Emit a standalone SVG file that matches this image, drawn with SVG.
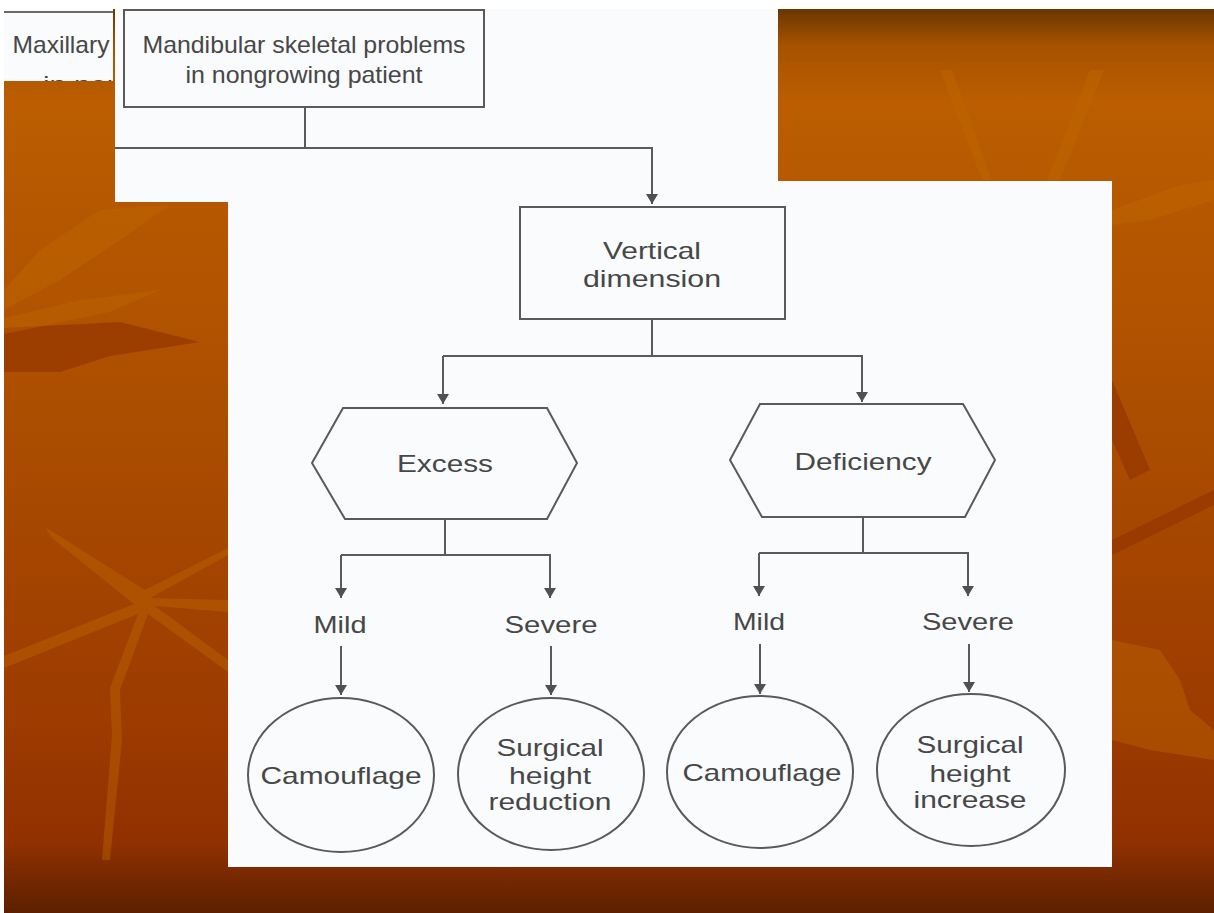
<svg xmlns="http://www.w3.org/2000/svg" width="1214" height="913" viewBox="0 0 1214 913">
<defs>
<linearGradient id="bg" x1="0" y1="0" x2="0" y2="1">
<stop offset="0" stop-color="#6a3600"/>
<stop offset="0.04" stop-color="#a65200"/>
<stop offset="0.1" stop-color="#bb5d00"/>
<stop offset="0.45" stop-color="#ac4e00"/>
<stop offset="0.8" stop-color="#9c3a00"/>
<stop offset="0.92" stop-color="#923100"/>
<stop offset="1" stop-color="#5c2000"/>
</linearGradient>
<clipPath id="clipA"><rect x="4" y="9" width="109" height="72"/></clipPath>
<marker id="ah" viewBox="0 0 10 12" refX="10" refY="6" markerWidth="10" markerHeight="12" markerUnits="userSpaceOnUse" orient="auto">
<path d="M0,0 L10,6 L0,12 z" fill="#505050"/>
</marker>
</defs>
<style>
.panel{fill:#f9fbfc}
.shape{fill:none;stroke:#5a5a5a;stroke-width:2}
.conn{fill:none;stroke:#5a5a5a;stroke-width:2}
.arr{marker-end:url(#ah)}
.t{font-family:"Liberation Sans",Arial,sans-serif;font-size:24px;fill:#474747;text-anchor:middle}
.leafD{fill:#943600;opacity:0.7}
.leafL{fill:#c06800;opacity:0.4}
</style>
<rect x="0" y="0" width="1214" height="913" fill="#ffffff"/>
<rect x="4" y="9" width="1210" height="904" fill="url(#bg)"/>
<g id="background-leaves">
<polygon class="leafD" points="4,328 120,322 200,342 110,356 60,372 4,372"/>
<polygon class="leafL" points="4,318 80,300 160,290 110,312 4,334"/>
<polygon class="leafL" points="4,290 40,250 100,210 170,205 120,240 60,280 4,310"/>
<polygon class="leafL" points="45,527 145,590 228,548 228,555 150,598 228,600 228,612 155,606 228,660 228,672 148,614 120,690 122,740 110,860 102,860 112,735 110,688 138,614 4,668 4,656 134,604 52,538"/>
<polygon class="leafL" points="940,70 952,70 992,180 982,180"/>
<polygon class="leafL" points="1090,70 1104,70 1060,180 1047,180"/>
<polygon class="leafD" points="1112,380 1150,470 1130,480 1112,440"/>
<polygon class="leafD" points="1112,540 1214,490 1214,505 1112,555"/>
<polygon class="leafL" points="1112,210 1180,185 1214,180 1214,200 1150,220 1112,225"/>
<polygon class="leafL" points="1112,640 1160,650 1180,680 1190,710 1214,730 1214,760 1150,750 1112,740"/>
</g>
<rect class="panel" x="4" y="9" width="109" height="72"/>
<rect class="panel" x="115" y="9" width="663" height="193"/>
<rect class="panel" x="228" y="181" width="884" height="686"/>
<g id="maxillary-partial" clip-path="url(#clipA)">
<line x1="4" y1="12" x2="113" y2="12" stroke="#6a6a6a" stroke-width="2"/>
<text class="t" x="61" y="53" font-size="25" textLength="97" lengthAdjust="spacingAndGlyphs">Maxillary</text>
<text class="t" x="43" y="93" font-size="25" style="text-anchor:start" textLength="80" lengthAdjust="spacingAndGlyphs">in non</text>
</g>
<g id="connectors">
<polyline class="conn" points="305,107 305,148 115,148"/>
<polyline class="conn arr" points="305,148 652,148 652,204"/>
<polyline class="conn" points="652,319 652,356 443,356"/>
<polyline class="conn arr" points="443,356 443,404"/>
<polyline class="conn arr" points="652,356 862,356 862,402"/>
<polyline class="conn" points="445,520 445,555 341,555"/>
<polyline class="conn arr" points="341,555 341,598"/>
<polyline class="conn arr" points="445,555 550,555 550,598"/>
<polyline class="conn" points="863,517 863,553 759,553"/>
<polyline class="conn arr" points="759,553 759,596"/>
<polyline class="conn arr" points="863,553 968,553 968,596"/>
<line class="conn arr" x1="341" y1="646" x2="341" y2="695"/>
<line class="conn arr" x1="551" y1="646" x2="551" y2="695"/>
<line class="conn arr" x1="760" y1="644" x2="760" y2="694"/>
<line class="conn arr" x1="969" y1="644" x2="969" y2="692"/>
</g>
<g id="mandibular">
<rect class="shape" x="124" y="10" width="360" height="97"/>
<text class="t" x="304" y="53" font-size="25" textLength="323" lengthAdjust="spacingAndGlyphs">Mandibular skeletal problems</text>
<text class="t" x="304" y="83" font-size="25" textLength="237" lengthAdjust="spacingAndGlyphs">in nongrowing patient</text>
</g>
<g id="vertical-dimension">
<rect class="shape" x="520" y="207" width="265" height="112"/>
<text class="t" x="652" y="259" textLength="98" lengthAdjust="spacingAndGlyphs">Vertical</text>
<text class="t" x="652" y="287" textLength="138" lengthAdjust="spacingAndGlyphs">dimension</text>
</g>
<g id="excess">
<polygon class="shape" points="312,463 343,408 547,408 577,463 547,519 345,519"/>
<text class="t" x="445" y="472" textLength="96" lengthAdjust="spacingAndGlyphs">Excess</text>
</g>
<g id="deficiency">
<polygon class="shape" points="730,460 760,404 963,404 995,460 965,517 762,517"/>
<text class="t" x="863" y="470" textLength="137" lengthAdjust="spacingAndGlyphs">Deficiency</text>
</g>
<g id="excess-mild"><text class="t" x="340" y="633" textLength="53" lengthAdjust="spacingAndGlyphs">Mild</text></g>
<g id="excess-severe"><text class="t" x="551" y="633" textLength="93" lengthAdjust="spacingAndGlyphs">Severe</text></g>
<g id="deficiency-mild"><text class="t" x="759" y="630" textLength="52" lengthAdjust="spacingAndGlyphs">Mild</text></g>
<g id="deficiency-severe"><text class="t" x="968" y="630" textLength="92" lengthAdjust="spacingAndGlyphs">Severe</text></g>
<g id="camouflage-1">
<ellipse class="shape" cx="341" cy="775" rx="93" ry="77"/>
<text class="t" x="341" y="784" textLength="161" lengthAdjust="spacingAndGlyphs">Camouflage</text>
</g>
<g id="surgical-reduction">
<ellipse class="shape" cx="551" cy="774" rx="93" ry="76"/>
<text class="t" x="550" y="756" textLength="107" lengthAdjust="spacingAndGlyphs">Surgical</text>
<text class="t" x="550" y="784" textLength="82" lengthAdjust="spacingAndGlyphs">height</text>
<text class="t" x="550" y="810" textLength="123" lengthAdjust="spacingAndGlyphs">reduction</text>
</g>
<g id="camouflage-2">
<ellipse class="shape" cx="760" cy="772" rx="93" ry="76"/>
<text class="t" x="762" y="781" textLength="159" lengthAdjust="spacingAndGlyphs">Camouflage</text>
</g>
<g id="surgical-increase">
<ellipse class="shape" cx="971" cy="770" rx="94" ry="76"/>
<text class="t" x="970" y="753" textLength="107" lengthAdjust="spacingAndGlyphs">Surgical</text>
<text class="t" x="970" y="782" textLength="81" lengthAdjust="spacingAndGlyphs">height</text>
<text class="t" x="970" y="808" textLength="113" lengthAdjust="spacingAndGlyphs">increase</text>
</g>
</svg>
